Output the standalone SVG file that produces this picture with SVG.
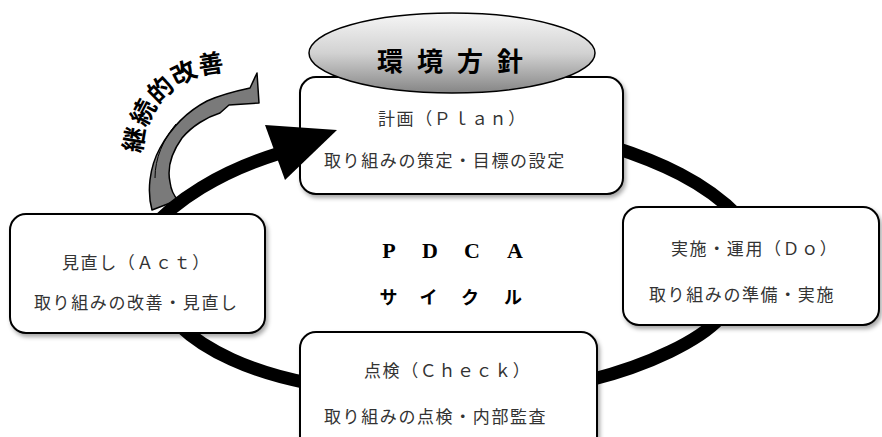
<svg xmlns="http://www.w3.org/2000/svg" width="882" height="437" viewBox="0 0 882 437">
<style>
.box{fill:#fff;stroke:#000;stroke-width:2;filter:url(#sh)}
.ring{fill:none;stroke:#000;stroke-width:13}
.t{font-family:"Noto Sans CJK JP","Noto Sans",sans-serif;font-size:17px;letter-spacing:1.6px;fill:#333}
.bigt{font-family:"Noto Sans CJK JP",sans-serif;font-weight:bold;fill:#000}
</style>
<defs>
<filter id="sh" x="-10%" y="-10%" width="125%" height="130%">
<feDropShadow dx="2" dy="3" stdDeviation="2" flood-color="#000" flood-opacity="0.35"/>
</filter>
<linearGradient id="eg" x1="0" y1="0" x2="0" y2="1">
<stop offset="0" stop-color="#f6f6f6"/>
<stop offset="0.5" stop-color="#d2d2d2"/>
<stop offset="1" stop-color="#858585"/>
</linearGradient>
<path id="arcp" d="M142,153.5 A83,83 0 0 1 232.2,72.3"/>
</defs>

<g id="improve-arrow">
<path d="M152,210 C147,192 149,168 160,148 C170,130 186,112 207,101 C220,95 236,91 250,88 L257,73 L259,103 L229,105 L220,113 C207,117 192,126 182,138 C172,152 167,168 170,182 C171,190 174,196 178,200 Z" fill="#7a7a7a" stroke="#000" stroke-width="1.5" stroke-linejoin="round"/>
<path d="M176,124 C163,140 155,158 155,178" fill="none" stroke="#000" stroke-width="1"/>
<text class="bigt" font-size="25" font-weight="900" letter-spacing="0.8" stroke="#fff" stroke-width="0.6" paint-order="stroke"><textPath href="#arcp">継続的改善</textPath></text>
</g>

<g id="connectors">
<path class="ring" stroke-width="15" d="M148,232 C175,200 220,172 277,154"/>
<path class="ring" d="M610,146 C660,162 705,182 738,216"/>
<path class="ring" d="M720,318 C700,340 650,365 590,380"/>
<path class="ring" d="M180,326 C205,350 250,372 308,383"/>
</g>

<g id="plan">
<rect class="box" x="300" y="77" width="323" height="117" rx="16"/>
<text class="t" x="378" y="124.5">計画（Ｐｌａｎ）</text>
<text class="t" x="324" y="166.5">取り組みの策定・目標の設定</text>
</g>

<g id="do">
<rect class="box" x="623" y="207" width="256" height="118" rx="16"/>
<text class="t" x="671" y="254.5">実施・運用（Ｄｏ）</text>
<text class="t" x="649" y="300.5">取り組みの準備・実施</text>
</g>

<g id="check">
<rect class="box" x="300" y="332" width="297" height="125" rx="16"/>
<text class="t" x="364" y="376.5">点検（Ｃｈｅｃｋ）</text>
<text class="t" x="324" y="422.5">取り組みの点検・内部監査</text>
</g>

<g id="act">
<rect class="box" x="10" y="214" width="255" height="119" rx="16"/>
<text class="t" x="62" y="268.5">見直し（Ａｃｔ）</text>
<text class="t" x="34" y="308.5">取り組みの改善・見直し</text>
</g>

<g id="policy">
<ellipse cx="452" cy="53" rx="143" ry="40" fill="url(#eg)" stroke="#000" stroke-width="1.5"/>
<text class="bigt" x="377" y="71" font-size="26" letter-spacing="14">環境方針</text>
</g>

<g id="arrowhead">
<polygon points="265,125 337,130 285,180" fill="#000"/>
</g>

<g id="center">
<text x="389 430 472 515" y="258" text-anchor="middle" font-family="'Liberation Serif',serif" font-weight="bold" font-size="22" fill="#000">PDCA</text>
<text class="bigt" x="388.5 428.5 470 513" y="304" text-anchor="middle" font-size="18">サイクル</text>
</g>
</svg>
